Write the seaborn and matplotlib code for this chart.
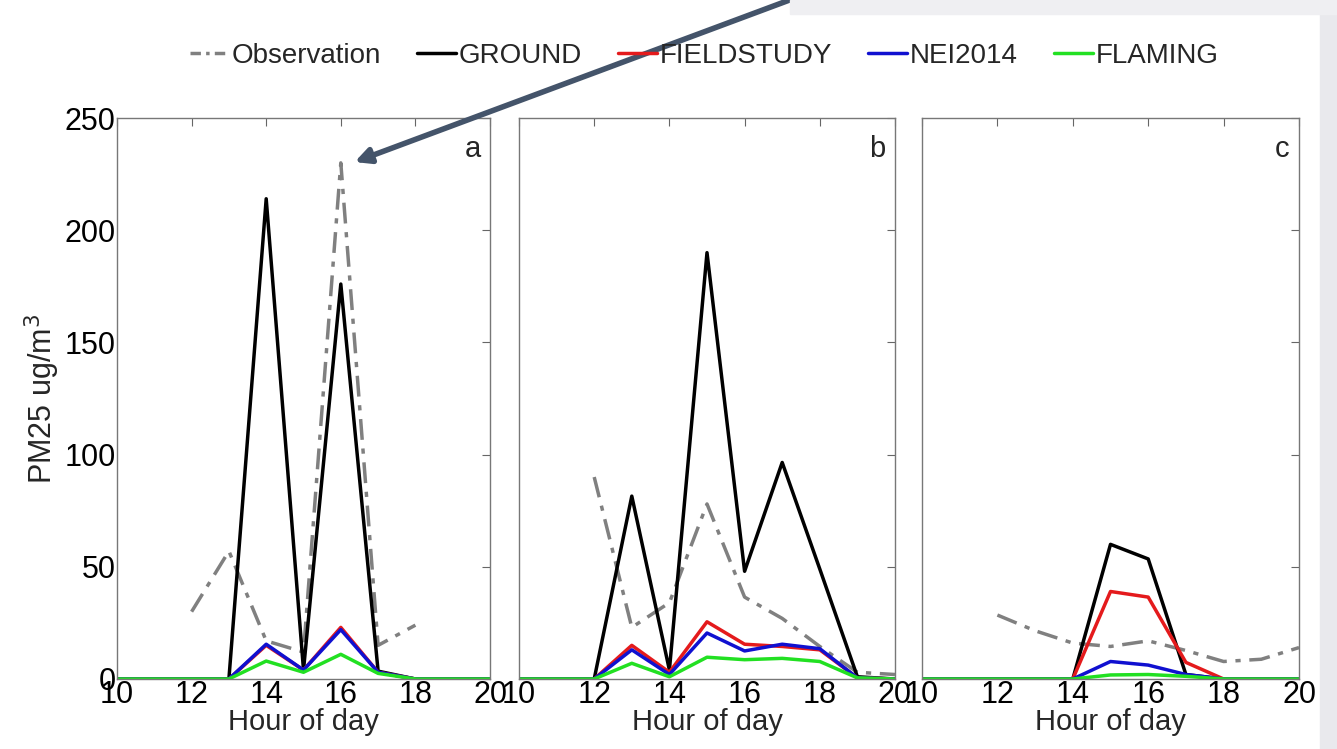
import numpy as np
import pandas as pd
import matplotlib
matplotlib.use("Agg")
import matplotlib.pyplot as plt
import seaborn as sns
from matplotlib.lines import Line2D

sns.set_style("white")
plt.rcParams['font.family'] = ['Liberation Sans', 'DejaVu Sans']

nan = np.nan
hours = list(range(10, 21))
series = ["Observation", "GROUND", "FIELDSTUDY", "NEI2014", "FLAMING"]
colors = {"Observation": "#808080", "GROUND": "black", "FIELDSTUDY": "#e41a1c",
          "NEI2014": "#1010d0", "FLAMING": "#22e022"}

# panel a
obs_a = [nan, nan, 30, 57, 17, 12, 230, 15, 24, nan, nan]
ground_a = [0, 0, 0, 0, 214, 4, 176, 3.5, 0, 0, 0]
field_a = [0, 0, 0, 0, 15, 4, 23, 3, 0, 0, 0]
nei_a = [0, 0, 0, 0, 15.5, 4, 22, 3, 0, 0, 0]
flam_a = [0, 0, 0, 0, 8, 3, 11, 2.5, 0, 0, 0]
# panel b
obs_b = [nan, nan, 90, 23, 34, 78, 36.5, 27, 14.5, 3, 2]
ground_b = [0, 0, 0, 81.5, 4, 190, 48, 96.5, 49, 1, 0]
field_b = [0, 0, 0, 15, 3, 25.5, 15.5, 14.5, 13, 0.5, 0]
nei_b = [0, 0, 0, 13, 2, 20.5, 12.5, 15.5, 13.5, 0.5, 0]
flam_b = [0, 0, 0, 7, 1, 9.7, 8.6, 9.2, 7.8, 0.5, 0]
# panel c
obs_c = [nan, nan, 28.5, 21.5, 16, 14.5, 17, 12.7, 7.8, 8.8, 14]
ground_c = [0, 0, 0, 0, 0, 60, 53.5, 2, 0, 0, 0]
field_c = [0, 0, 0, 0, 0, 39, 36.5, 7.4, 0, 0, 0]
nei_c = [0, 0, 0, 0, 0, 7.8, 6.2, 2, 0, 0, 0]
flam_c = [0, 0, 0, 0, 0, 1.8, 2, 1.2, 0, 0, 0]

panels = {
    "a": [obs_a, ground_a, field_a, nei_a, flam_a],
    "b": [obs_b, ground_b, field_b, nei_b, flam_b],
    "c": [obs_c, ground_c, field_c, nei_c, flam_c],
}

rows = []
for p, vals in panels.items():
    for name, v in zip(series, vals):
        for h, y in zip(hours, v):
            rows.append((p, name, h, y))
df = pd.DataFrame(rows, columns=["panel", "series", "hour", "value"])

W, H = 1337, 749
fig = plt.figure(figsize=(W / 100, H / 100), dpi=100)

# slide background bits
fig.patches.append(plt.Rectangle((1320 / W, 0), 17 / W, 1, transform=fig.transFigure,
                                 color="#e9e9ed", zorder=0))
fig.patches.append(plt.Rectangle((790 / W, 1 - 14 / H), 547 / W, 14 / H, transform=fig.transFigure,
                                 color="#efeff2", zorder=0))

lefts = [117, 519, 922]
widths = [373, 376, 377]
axes = []
for i, p in enumerate(["a", "b", "c"]):
    ax = fig.add_axes([lefts[i] / W, 70 / H, widths[i] / W, 561 / H])
    sub = df[df.panel == p]
    for name in series:
        d = sub[sub.series == name].dropna()
        if name == "Observation":
            sns.lineplot(data=d, x="hour", y="value", ax=ax, color=colors[name], lw=2.5,
                         dashes=False, linestyle=(0, (6, 2.5, 1.5, 2.5)))
        else:
            sns.lineplot(data=d, x="hour", y="value", ax=ax, color=colors[name], lw=2.5)
    ax.set_xlim(10, 20)
    ax.set_ylim(0, 250)
    ax.set_xticks(range(10, 21, 2))
    ax.set_yticks(range(0, 251, 50))
    ax.tick_params(direction="in", length=6, width=0.8, top=True, right=True,
                   labelsize=22, colors="#666666", labelcolor="black", pad=1)
    for s in ax.spines.values():
        s.set_color("#777777")
        s.set_linewidth(1)
    ax.set_xlabel("Hour of day", fontsize=21, labelpad=-2)
    if i == 0:
        ax.set_ylabel("PM25 ug/m$^3$", fontsize=22, labelpad=2)
    else:
        ax.set_ylabel("")
        ax.set_yticklabels([])
    ax.text(0.975, 0.97, p, transform=ax.transAxes, ha="right", va="top", fontsize=21)
    axes.append(ax)

handles = [Line2D([], [], color=colors["Observation"], lw=2.5, linestyle=(0, (3, 1.5, 1, 1.5))),
           Line2D([], [], color=colors["GROUND"], lw=2.5),
           Line2D([], [], color=colors["FIELDSTUDY"], lw=2.5),
           Line2D([], [], color=colors["NEI2014"], lw=2.5),
           Line2D([], [], color=colors["FLAMING"], lw=2.5)]
fig.legend(handles, series, loc="center", bbox_to_anchor=(704 / W, 1 - 56 / H), ncol=5,
           frameon=False, fontsize=20, handlelength=1.4, handletextpad=0.1, columnspacing=1.3)

# arrow pointing at the observed peak
axes[0].annotate("", xy=(352 / W, 1 - 163 / H), xycoords="figure fraction",
                 xytext=(795 / W, 1 + 2 / H), textcoords="figure fraction",
                 arrowprops=dict(arrowstyle="-|>,head_length=0.9,head_width=0.45",
                                 color="#44546a", lw=4), annotation_clip=False)

fig.savefig("out.png", dpi=100)
